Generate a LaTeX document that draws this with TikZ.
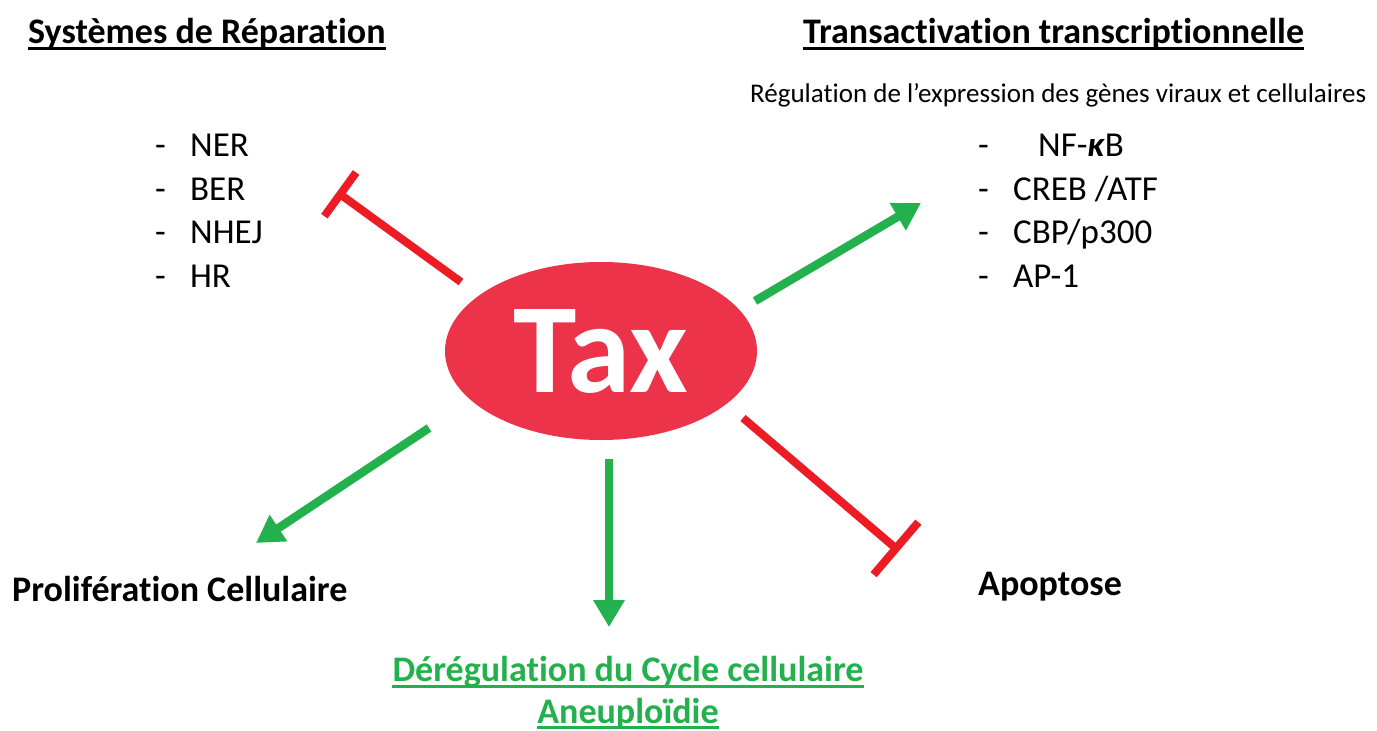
\documentclass[tikz,border=0pt]{standalone}
\usepackage{fontspec}
\setmainfont{Carlito}[Ligatures={NoCommon,NoContextual}]
\usetikzlibrary{arrows.meta,shapes.geometric}
\definecolor{taxred}{RGB}{236,51,74}
\definecolor{lred}{RGB}{237,28,36}
\definecolor{lgreen}{RGB}{34,177,76}
\tikzset{
  ttl/.style={font=\fontsize{36}{40}\selectfont\bfseries, inner sep=0pt, anchor=base west},
  lbl/.style={font=\fontsize{36}{40}\selectfont\bfseries, inner sep=0pt, anchor=base west},
  itm/.style={font=\fontsize{35}{40}\selectfont, inner sep=0pt, anchor=base west},
  sub/.style={font=\fontsize{27}{32}\selectfont, inner sep=0pt, anchor=base west},
  uline/.style={line width=3pt},
  act/.style={draw=lgreen, line width=8.5pt, -{Triangle[width=30pt,length=27pt]}},
  inh/.style={draw=lred, line width=8pt},
}
\begin{document}
\begin{tikzpicture}[x=1pt,y=-1pt]
\useasboundingbox (0,0) rectangle (1377,731);
% central node
\node[ellipse, fill=taxred, minimum width=312pt, minimum height=178pt, inner sep=0pt,
      text=white, font=\fontsize{128}{130}\selectfont\bfseries] (tax) at (601,351) {Tax};
% titles
\node[ttl] (t1) at (28,43) {Systèmes de Réparation};
\draw[uline] ([yshift=-5pt]t1.base west) -- ([yshift=-5pt]t1.base east);
\node[ttl] (t2) at (803,43) {Transactivation transcriptionnelle};
\draw[uline] ([yshift=-5pt]t2.base west) -- ([yshift=-5pt]t2.base east);
\node[sub] (reg) at (750,102) {Régulation de l’expression des gènes viraux et cellulaires};
% left list
\node[itm] (ner) at (155,156) {\makebox[35pt][l]{-}NER};
\node[itm] (ber) at (155,200) {\makebox[35pt][l]{-}BER};
\node[itm] (nhej) at (155,243) {\makebox[35pt][l]{-}NHEJ};
\node[itm] (hr) at (155,287) {\makebox[35pt][l]{-}HR};
% right list
\node[itm] (nfkb) at (978,156) {\makebox[60pt][l]{-}NF-\textbf{\textit{κ}}B};
\node[itm] (creb) at (978,200) {\makebox[35pt][l]{-}CREB /ATF};
\node[itm] (cbp) at (978,243) {\makebox[35pt][l]{-}CBP/p300};
\node[itm] (ap1) at (978,287) {\makebox[35pt][l]{-}AP-1};
% bottom labels
\node[lbl] (prolif) at (12,601) {Prolifération Cellulaire};
\node[lbl] (apop) at (978,595) {Apoptose};
\node[lbl, text=lgreen, anchor=base] (dereg) at (628,681) {Dérégulation du Cycle cellulaire};
\draw[uline, lgreen] ([yshift=-5pt]dereg.base west) -- ([yshift=-5pt]dereg.base east);
\node[lbl, text=lgreen, anchor=base] (aneu) at (628,723) {Aneuploïdie};
\draw[uline, lgreen] ([yshift=-4.5pt]aneu.base west) -- ([yshift=-4.5pt]aneu.base east);
% connector ends
\coordinate (s1) at (461,282); \coordinate (e1) at (337,192);
\coordinate (s2) at (755,301); \coordinate (e2) at (921,203);
\coordinate (s3) at (429,428); \coordinate (e3) at (256,543);
\coordinate (s4) at (609,459); \coordinate (e4) at (609,627);
\coordinate (s5) at (743,418); \coordinate (e5) at (899,551);
% connectors
\draw[inh, -{Bar[width=54pt]}] (s1) -- (e1);
\draw[act] (s2) -- (e2);
\draw[act] (s3) -- (e3);
\draw[act] (s4) -- (e4);
\draw[inh, -{Bar[width=69pt]}] (s5) -- (e5);
\end{tikzpicture}
\end{document}
